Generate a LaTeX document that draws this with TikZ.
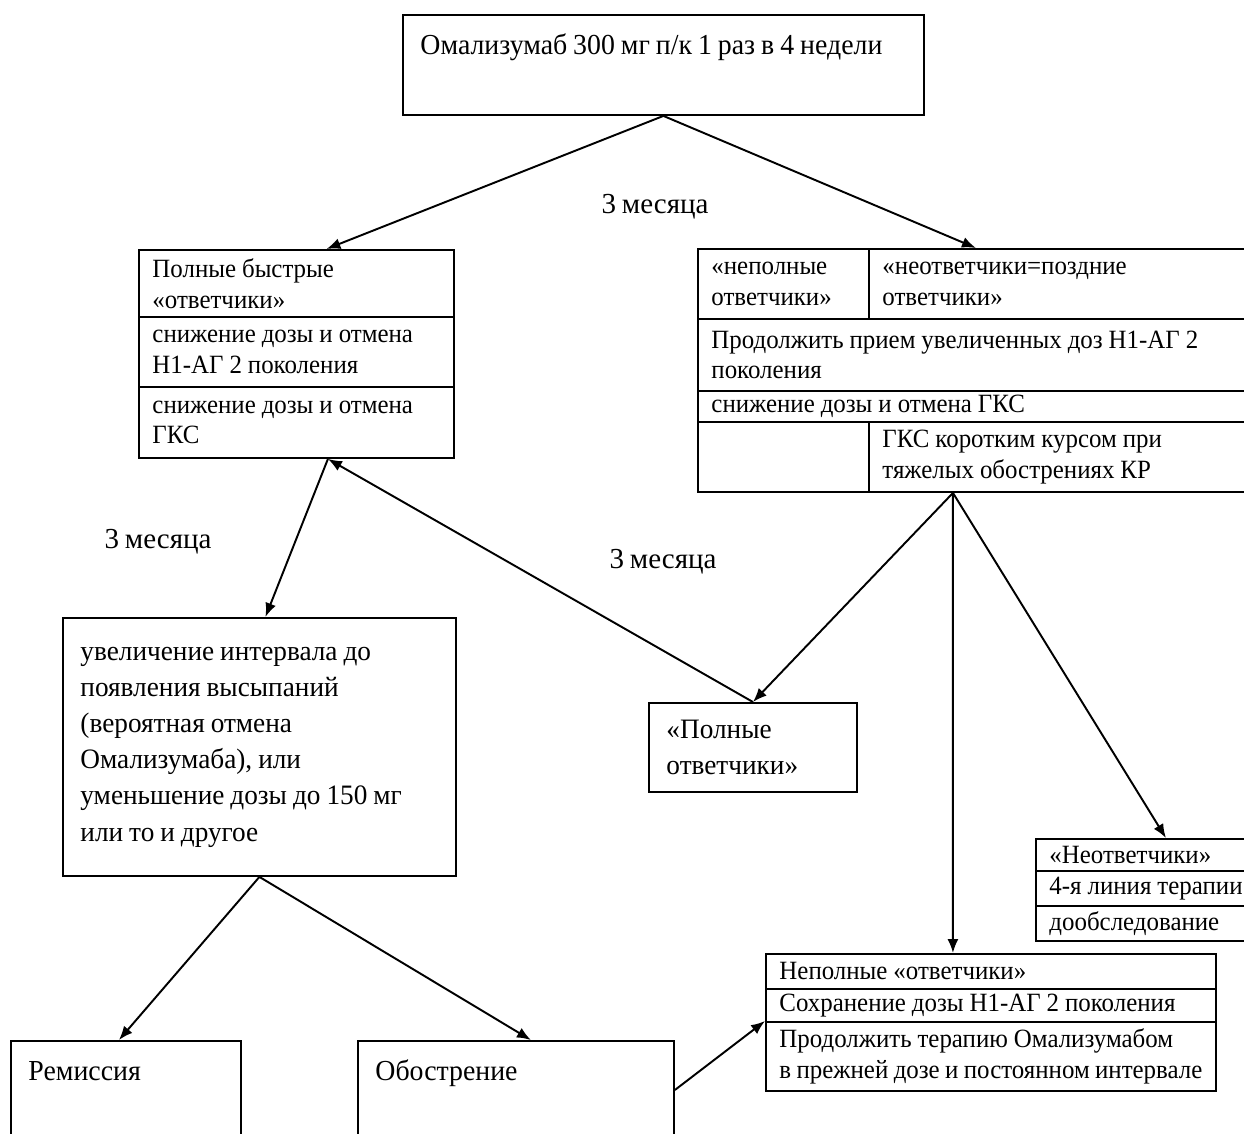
\documentclass[tikz,border=0pt]{standalone}
\usepackage{fontspec}
\setmainfont{Liberation Serif}
\usetikzlibrary{arrows.meta}
\newcommand{\tabfont}{\fontsize{15}{17.5}\selectfont\addfontfeature{FakeStretch=0.945}}
\newcommand{\boxfont}{\fontsize{16}{20.6}\selectfont\addfontfeature{FakeStretch=0.97}}
\newcommand{\headfont}{\fontsize{16.5}{19}\selectfont\addfontfeature{FakeStretch=0.96}}
\newcommand{\lblfont}{\fontsize{16.5}{19}\selectfont}

\begin{document}
\begin{tikzpicture}[x=0.02cm,y=-0.02cm,
      every node/.style={align=left,
        execute at begin node={\spaceskip=3.4pt plus 1pt minus 0.5pt\relax}},
      cell/.style 2 args={draw,line width=1.1pt,anchor=north west,inner xsep=0.27cm,
        inner ysep=0pt,font=\tabfont,text width=#1,minimum height=#2},
      panel/.style 2 args={draw,line width=1.1pt,anchor=north west,inner xsep=0.35cm,
        inner ysep=0pt,font=\boxfont,text width=#1,minimum height=#2},
      topline/.style 2 args={draw,line width=1.1pt,anchor=north west,inner xsep=0.35cm,
        inner ysep=0pt,font=\headfont,text width=#1,text height=0.8cm,text depth=#2},
      lbl/.style={font=\lblfont},
      arrow/.style={-{Latex[length=2.8mm,width=2.2mm]},line width=1.1pt}]
      \useasboundingbox (0,0) rectangle (1244,1133);
      % start of therapy
      \node[topline={9.72cm}{1.2cm}] (dose) at (402,14) {Омализумаб 300 мг п/к 1 раз в 4 недели};
      % fast full responders
      \node[cell={5.76cm}{1.34cm}] (fastA) at (138,249) {Полные быстрые\\«ответчики»};
      \node[cell={5.76cm}{1.4cm}] (fastB) at (138,316) {снижение дозы и отмена\\Н1-АГ 2 поколения};
      \node[cell={5.76cm}{1.42cm}] (fastC) at (138,386) {снижение дозы и отмена\\ГКС};
      % partial and late responders
      \node[cell={2.88cm}{1.4cm}] (respPartial) at (697,248) {«неполные\\ответчики»};
      \node[cell={7.02cm}{1.4cm}] (respLate) at (868,248) {«неответчики=поздние\\ответчики»};
      \node[cell={10.44cm}{1.44cm}] (respDose) at (697,318) {Продолжить прием увеличенных доз Н1-АГ 2\\поколения};
      \node[cell={10.44cm}{0.62cm}] (respGks) at (697,390) {снижение дозы и отмена ГКС};
      \node[cell={2.88cm}{1.4cm}] (respEmpty) at (697,421) {};
      \node[cell={7.02cm}{1.4cm}] (respShort) at (868,421) {ГКС коротким курсом при\\тяжелых обострениях КР};
      % after three months
      \node[panel={7.16cm}{5.16cm}] (interval) at (62,617) {увеличение интервала до\\появления высыпаний\\(вероятная отмена\\Омализумаба), или\\уменьшение дозы до 150 мг\\или то и другое};
      \node[panel={3.46cm}{1.78cm}] (full) at (648,702) {«Полные\\ответчики»};
      \node[cell={4.2cm}{0.64cm}] (nonA) at (1035,838) {«Неответчики»};
      \node[cell={4.2cm}{0.7cm}] (nonB) at (1035,870) {4-я линия терапии};
      \node[cell={4.2cm}{0.7cm}] (nonC) at (1035,905) {дообследование};
      \node[cell={8.46cm}{0.7cm}] (partA) at (765,953) {Неполные «ответчики»};
      \node[cell={8.46cm}{0.66cm}] (partB) at (765,988) {Сохранение дозы Н1-АГ 2 поколения};
      \node[cell={8.46cm}{1.38cm}] (partC) at (765,1021) {Продолжить терапию Омализумабом\\в прежней дозе и постоянном интервале};
      % outcomes
      \node[topline={3.9cm}{1.5cm}] (remission) at (10,1040) {Ремиссия};
      \node[topline={5.62cm}{1.5cm}] (flare) at (357,1040) {Обострение};
      % time labels
      \node[lbl] (lblTop) at (655,207) {3 месяца};
      \node[lbl] (lblLeft) at (158,542) {3 месяца};
      \node[lbl] (lblMid) at (663,562) {3 месяца};
      \draw[arrow] (dose.south)--([xshift=0.6cm]fastA.north);
      \draw[arrow] (dose.south)--([xshift=-1.64cm]respLate.north);
      \draw[arrow] ([xshift=0.63cm]fastC.south)--([xshift=0.12cm]interval.north);
      \draw[arrow] (full.north)--([xshift=0.63cm]fastC.south);
      \draw[arrow] ([xshift=-2.1cm]respShort.south)--(full.north);
      \draw[arrow] ([xshift=-2.1cm]respShort.south)--([xshift=-0.76cm]partA.north);
      \draw[arrow] ([xshift=-2.1cm]respShort.south)--([xshift=0.23cm]nonA.north);
      \draw[arrow] (interval.south)--([xshift=-0.14cm]remission.north);
      \draw[arrow] (interval.south)--([xshift=0.3cm]flare.north);
      \draw[arrow] ([yshift=-1cm]flare.north east)--(partC.north west);
    \end{tikzpicture}
\end{document}
